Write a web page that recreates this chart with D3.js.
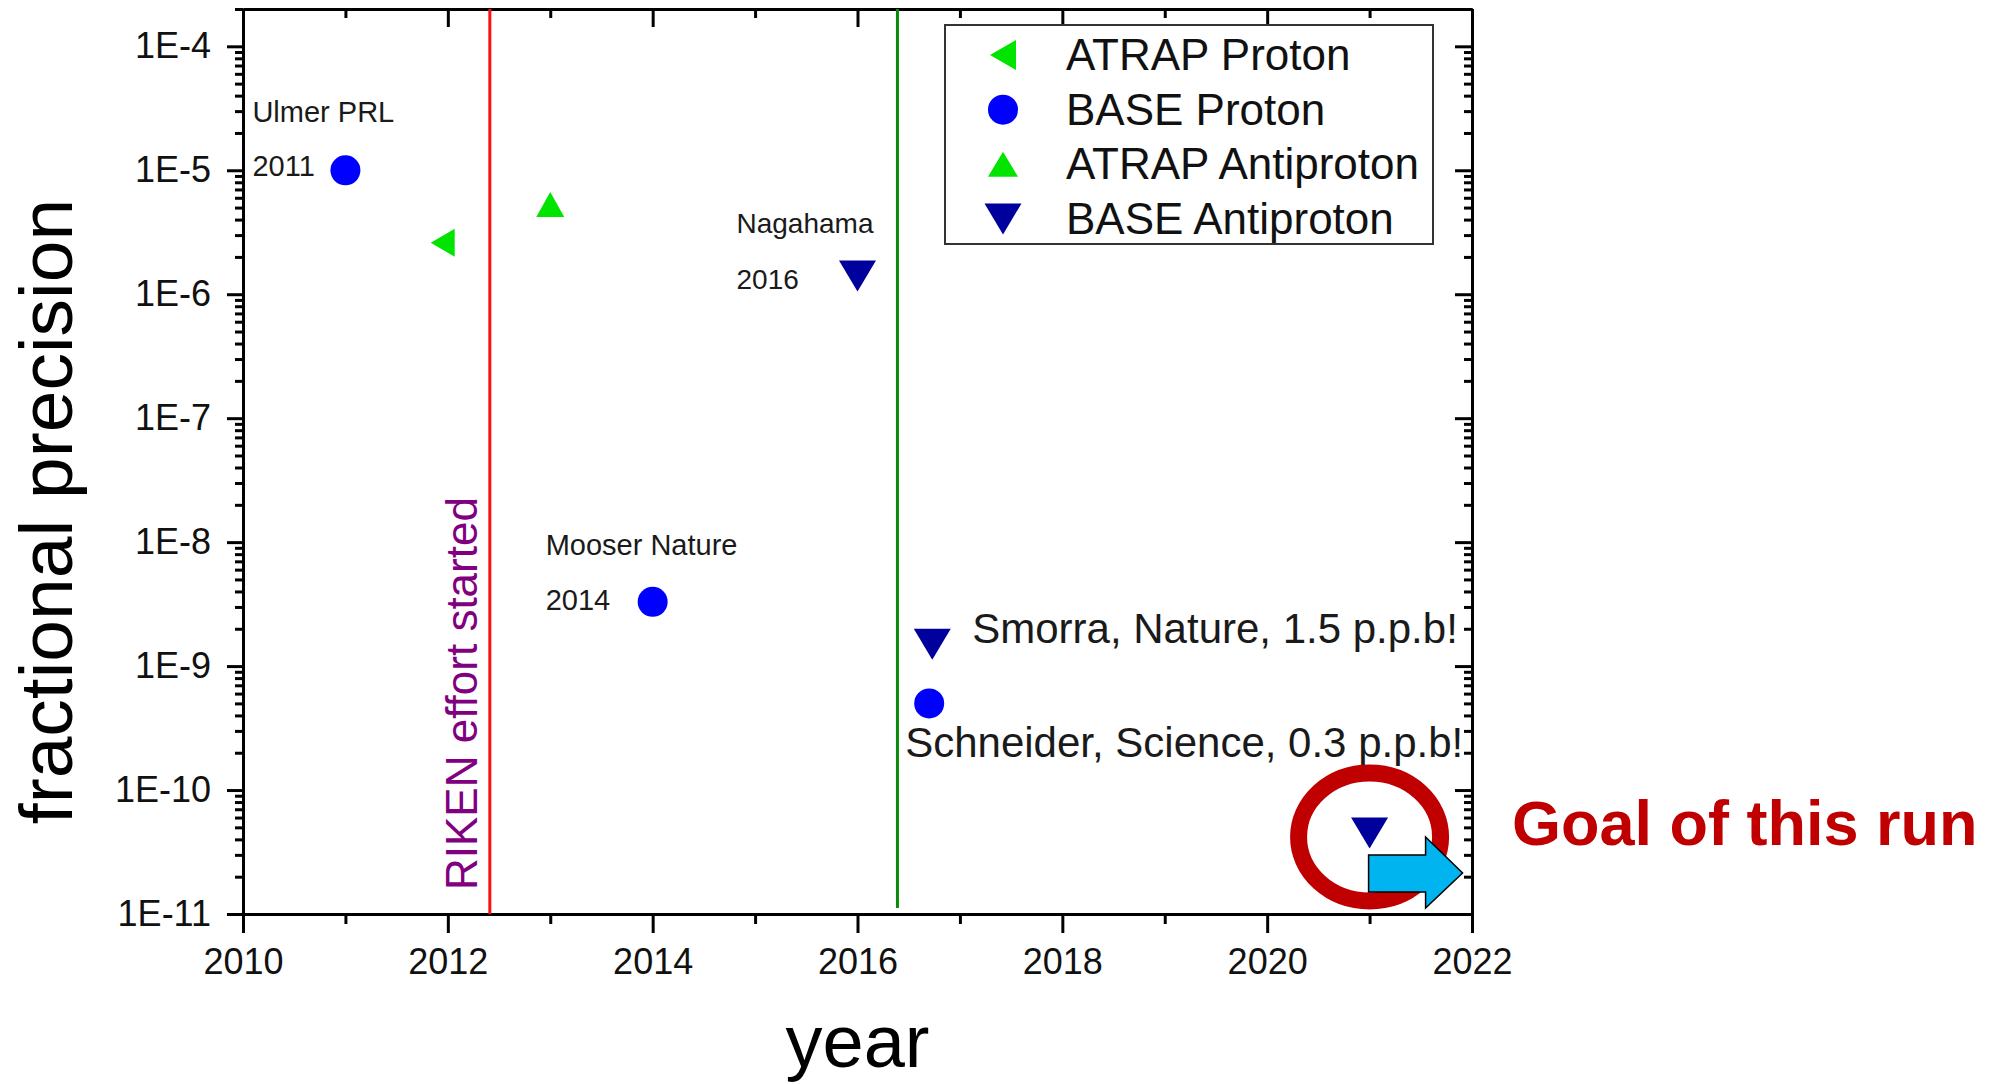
<!DOCTYPE html>
<html>
<head>
<meta charset="utf-8">
<script src="https://cdn.jsdelivr.net/npm/d3@7"></script>
<style>
  body { margin: 0; background: #fff; }
  svg { display: block; font-family: "Liberation Sans", Arial, sans-serif; }
</style>
</head>
<body>
<svg id="chart" width="2004" height="1084"></svg>
<script>
// data
var seriesNames = ["ATRAP Proton", "BASE Proton", "ATRAP Antiproton", "BASE Antiproton"];

var atrapProtonYears = [2011.95];
var atrapProtonPrec = [2.6e-6];

var baseProtonYears = [2011, 2014, 2016.7];
var baseProtonPrec = [1e-5, 3.3e-9, 5e-10];

var atrapAntiprotonYears = [2013];
var atrapAntiprotonPrec = [5.3e-6];

var baseAntiprotonYears = [2016, 2016.73, 2021];
var baseAntiprotonPrec = [1.4e-6, 1.5e-9, 4.5e-11];

var xTicks = [2010, 2012, 2014, 2016, 2018, 2020, 2022];
var yTicks = [1e-11, 1e-10, 1e-9, 1e-8, 1e-7, 1e-6, 1e-5, 1e-4];

var rikenYear = 2012.41;
var greenLineYear = 2016.39;

// layout (note: "top" is reserved on window, so use plot* names)
var svg = d3.select("#chart"),
	plotLeft = 243, plotRight = 1472, plotTop = 9, plotBottom = 914;

var x = d3.scaleLinear().domain([2010, 2022]).range([plotLeft, plotRight]);
var y = d3.scaleLog().domain([1e-11, 2e-4]).range([plotBottom, plotTop]);

// marker shapes, centred on their bounding box
function tri(dir, w, h) {
	if (dir == "down") return "M" + (-w/2) + "," + (-h/2) + "L" + (w/2) + "," + (-h/2) + "L0," + (h/2) + "Z";
	if (dir == "up") return "M" + (-w/2) + "," + (h/2) + "L" + (w/2) + "," + (h/2) + "L0," + (-h/2) + "Z";
	return "M" + (w/2) + "," + (-h/2) + "L" + (w/2) + "," + (h/2) + "L" + (-w/2) + ",0Z";
}
function circ(r) {
	return d3.symbol().type(d3.symbolCircle).size(Math.PI * r * r)();
}

var series = [
	{ name: seriesNames[0], years: atrapProtonYears, prec: atrapProtonPrec, color: "#00e400", shape: tri("left", 24, 28), legendShape: tri("left", 26, 30) },
	{ name: seriesNames[1], years: baseProtonYears, prec: baseProtonPrec, color: "#0000ff", shape: circ(15), legendShape: circ(15) },
	{ name: seriesNames[2], years: atrapAntiprotonYears, prec: atrapAntiprotonPrec, color: "#00e400", shape: tri("up", 28, 25), legendShape: tri("up", 30, 25) },
	{ name: seriesNames[3], years: baseAntiprotonYears, prec: baseAntiprotonPrec, color: "#00009c", shape: tri("down", 37, 31), legendShape: tri("down", 37, 31) }
];

// minor ticks
var minorYears = d3.range(2011, 2022, 2);
var minorY = [];
yTicks.forEach(function(d) {
	for (var k = 2; k <= 9; k++) {
		var v = d * k;
		if (v <= 2e-4) minorY.push(v);
	}
});

function styleAxis(g) {
	g.selectAll("path, line").attr("stroke", "#000").attr("stroke-width", 3);
	g.selectAll("text").attr("font-size", 36).attr("fill", "#111")
	 .attr("font-family", "'Liberation Sans', Arial, sans-serif");
}

// bottom axis
svg.append("g").attr("transform", "translate(0," + plotBottom + ")")
   .call(d3.axisBottom(x).tickValues(minorYears).tickSize(10).tickSizeOuter(0).tickFormat(""))
   .call(styleAxis);
svg.append("g").attr("transform", "translate(0," + plotBottom + ")")
   .call(d3.axisBottom(x).tickValues(xTicks).tickSize(19).tickSizeOuter(0).tickPadding(15).tickFormat(d3.format("d")))
   .call(styleAxis);

// top axis, ticks inward, no labels
svg.append("g").attr("transform", "translate(0," + plotTop + ")")
   .call(d3.axisBottom(x).tickValues(minorYears).tickSize(9).tickSizeOuter(0).tickFormat(""))
   .call(styleAxis);
svg.append("g").attr("transform", "translate(0," + plotTop + ")")
   .call(d3.axisBottom(x).tickValues(xTicks).tickSize(18).tickSizeOuter(0).tickFormat(""))
   .call(styleAxis);

// left axis
svg.append("g").attr("transform", "translate(" + plotLeft + ",0)")
   .call(d3.axisLeft(y).tickValues(minorY).tickSize(8).tickSizeOuter(0).tickFormat(""))
   .call(styleAxis);
svg.append("g").attr("transform", "translate(" + plotLeft + ",0)")
   .call(d3.axisLeft(y).tickValues(yTicks).tickSize(16).tickSizeOuter(0).tickPadding(16)
		 .tickFormat(function(d) { return "1E" + Math.round(Math.log10(d)); }))
   .call(styleAxis);

// right axis, ticks inward
svg.append("g").attr("transform", "translate(" + plotRight + ",0)")
   .call(d3.axisLeft(y).tickValues(minorY).tickSize(8).tickSizeOuter(0).tickFormat(""))
   .call(styleAxis);
svg.append("g").attr("transform", "translate(" + plotRight + ",0)")
   .call(d3.axisLeft(y).tickValues(yTicks).tickSize(17).tickSizeOuter(0).tickFormat(""))
   .call(styleAxis);

// axis titles
svg.append("text")
   .attr("transform", "translate(72," + ((plotTop + plotBottom) / 2 + 50) + ") rotate(-90)")
   .attr("text-anchor", "middle")
   .attr("font-size", 75)
   .text("fractional precision");

svg.append("text")
   .attr("x", (plotLeft + plotRight) / 2)
   .attr("y", 1067)
   .attr("text-anchor", "middle")
   .attr("font-size", 74)
   .text("year");

// vertical marker lines
svg.append("line")
   .attr("x1", x(rikenYear)).attr("x2", x(rikenYear))
   .attr("y1", plotTop).attr("y2", plotBottom)
   .attr("stroke", "#ff1010").attr("stroke-width", 3);

svg.append("text")
   .attr("transform", "translate(" + (x(rikenYear) - 13) + ",890) rotate(-90)")
   .attr("font-size", 44)
   .attr("fill", "#800080")
   .text("RIKEN effort started");

svg.append("line")
   .attr("x1", x(greenLineYear)).attr("x2", x(greenLineYear))
   .attr("y1", plotTop).attr("y2", plotBottom - 6)
   .attr("stroke", "#0a8a0a").attr("stroke-width", 3);

// points
series.forEach(function(s) {
	svg.append("g").selectAll("path")
	   .data(s.years.map(function(yr, i) { return [yr, s.prec[i]]; }))
	   .enter().append("path")
	   .attr("transform", function(d) { return "translate(" + x(d[0]) + "," + y(d[1]) + ")"; })
	   .attr("d", s.shape)
	   .attr("fill", s.color);
});

// text notes next to the points
function note(px, py, dx, dy, size, txt) {
	svg.append("text")
	   .attr("x", px + dx).attr("y", py + dy)
	   .attr("font-size", size)
	   .attr("fill", "#1a1a1a")
	   .text(txt);
}
var ulmer = [x(baseProtonYears[0]), y(baseProtonPrec[0])];
note(ulmer[0], ulmer[1], -93, -48, 29, "Ulmer PRL");
note(ulmer[0], ulmer[1], -93, 6, 29, "2011");

var mooser = [x(baseProtonYears[1]), y(baseProtonPrec[1])];
note(mooser[0], mooser[1], -107, -47, 29, "Mooser Nature");
note(mooser[0], mooser[1], -107, 8, 29, "2014");

var naga = [x(baseAntiprotonYears[0]), y(baseAntiprotonPrec[0])];
note(naga[0], naga[1], -121, -43, 28, "Nagahama");
note(naga[0], naga[1], -121, 13, 28, "2016");

var smorra = [x(baseAntiprotonYears[1]), y(baseAntiprotonPrec[1])];
note(smorra[0], smorra[1], 40, -1, 42, "Smorra, Nature, 1.5 p.p.b!");

var schneider = [x(baseProtonYears[2]), y(baseProtonPrec[2])];
note(schneider[0], schneider[1], -24, 54, 42, "Schneider, Science, 0.3 p.p.b!");

// goal: ring, arrow and label
var gx = x(baseAntiprotonYears[2]), gy = y(baseAntiprotonPrec[2]);

svg.append("ellipse")
   .attr("cx", gx).attr("cy", gy + 4)
   .attr("rx", 71).attr("ry", 64)
   .attr("fill", "none")
   .attr("stroke", "#c00000").attr("stroke-width", 17);

var arrow = d3.path();
arrow.moveTo(gx - 1, gy + 22);
arrow.lineTo(gx + 56, gy + 22);
arrow.lineTo(gx + 56, gy + 4);
arrow.lineTo(gx + 93, gy + 40);
arrow.lineTo(gx + 56, gy + 75);
arrow.lineTo(gx + 56, gy + 59);
arrow.lineTo(gx - 1, gy + 59);
arrow.closePath();
svg.append("path")
   .attr("d", arrow.toString())
   .attr("fill", "#00b4f0")
   .attr("stroke", "#000").attr("stroke-width", 1.5);

svg.append("text")
   .attr("x", 1512).attr("y", 845)
   .attr("font-size", 63)
   .attr("font-weight", "bold")
   .attr("fill", "#c00000")
   .text("Goal of this run");

// legend
var legend = svg.append("g").attr("transform", "translate(945,25)");
legend.append("rect")
	  .attr("width", 488).attr("height", 219)
	  .attr("fill", "#fff")
	  .attr("stroke", "#333").attr("stroke-width", 2);

var rowY = d3.scalePoint().domain(seriesNames).range([30, 194]);
var rows = legend.selectAll(".row")
	  .data(series)
	  .enter().append("g")
	  .attr("transform", function(d) { return "translate(0," + rowY(d.name) + ")"; });
rows.append("path")
	.attr("transform", "translate(58,0)")
	.attr("d", function(d) { return d.legendShape; })
	.attr("fill", function(d) { return d.color; });
rows.append("text")
	.attr("x", 121).attr("y", 15)
	.attr("font-size", 44)
	.attr("fill", "#111")
	.text(function(d) { return d.name; });
</script>
</body>
</html>
